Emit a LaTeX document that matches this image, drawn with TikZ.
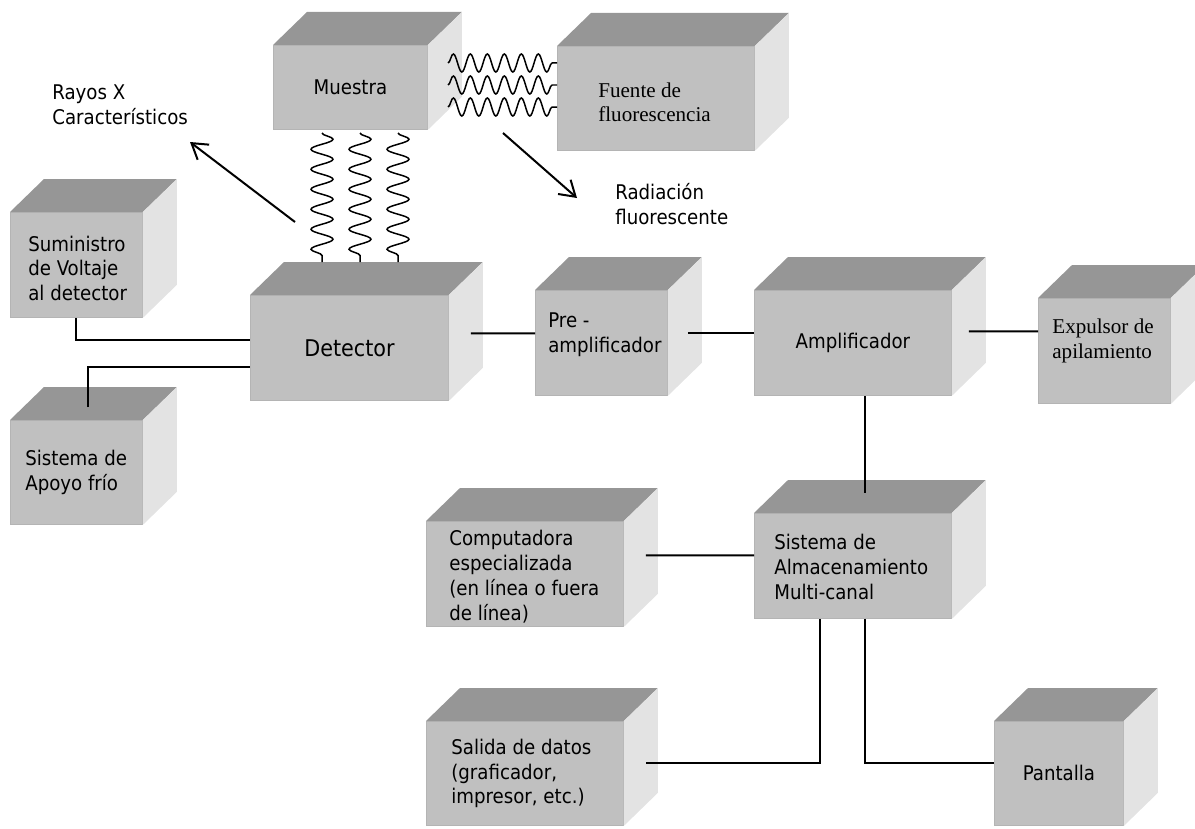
\documentclass[tikz,border=0pt]{standalone}
\usepackage{fontspec}
\setmainfont{DejaVu Sans Condensed}
\newfontfamily\serifa{Liberation Serif}
\usetikzlibrary{calc,arrows.meta,decorations.pathmorphing}
\definecolor{cajafrente}{RGB}{192,192,192}
\definecolor{cajatapa}{RGB}{150,150,150}
\definecolor{cajalado}{RGB}{227,227,227}
\definecolor{cajaborde}{RGB}{180,180,180}
% tapa y lado de una caja (la cara frontal es el nodo #1)
\newcommand{\caja}[1]{%
	\fill[cajatapa] (#1.north west) -- ++(34,-33) -- ($(#1.north east)+(34,-33)$) -- (#1.north east) -- cycle;
	\fill[cajalado] (#1.north east) -- ++(34,-33) -- ($(#1.south east)+(34,-33)$) -- (#1.south east) -- cycle;}

\begin{document}
\begin{tikzpicture}[x=0.02cm, y=-0.02cm,
		font=\fontsize{11.5}{14.2}\selectfont,
		caja/.style={rectangle, fill=cajafrente, draw=cajaborde, line width=0.5pt, inner sep=0pt, anchor=north west, minimum height=2.1cm, align=center},
		serif/.style={font=\serifa\fontsize{12}{13.8}\selectfont},
		texto/.style={align=left, inner sep=0pt, anchor=west},
		conector/.style={line width=0.04cm},
		flecha/.style={line width=0.04cm, -{Straight Barb[length=0.3cm,width=0.38cm]}},
		ondah/.style={decorate, decoration={snake, segment length=0.34cm, amplitude=0.18cm}, line width=0.03cm},
		ondav/.style={decorate, decoration={snake, segment length=0.4cm, amplitude=0.22cm}, line width=0.03cm}]
		%%%%% START %%%%%
		\useasboundingbox (0,0) rectangle (1195,828);
		
		\node[caja, minimum width=3.08cm, minimum height=1.68cm] (muestra) at (273,45) {Muestra};
		\caja{muestra}
		\node[caja, minimum width=3.94cm, minimum height=2.08cm] (fuente) at (557,46) {};
		\caja{fuente}
		\node[texto, serif] (fuentetxt) at ($(fuente.west)+(41,3.5)$) {Fuente de\\fluorescencia};
		
		\node[caja, minimum width=2.64cm] (sumin) at (10,212) {};
		\caja{sumin}
		\node[texto] (sumintxt) at ($(sumin.west)+(18,3.5)$) {Suministro\\de Voltaje\\al detector};
		\node[caja, minimum width=3.96cm, font=\fontsize{13.1}{15}\selectfont] (det) at (250,295) {Detector};
		\caja{det}
		\node[caja, minimum width=2.64cm, minimum height=2.08cm] (apoyo) at (10,420) {};
		\caja{apoyo}
		\node[texto] (apoyotxt) at ($(apoyo.west)+(15,0)$) {Sistema de\\Apoyo frío};
		
		\node[caja, minimum width=2.64cm] (preamp) at (535,290) {};
		\caja{preamp}
		\node[texto] (preamptxt) at ($(preamp.west)+(13,-8)$) {Pre -\\amplificador};
		\node[caja, minimum width=3.94cm] (amplif) at (754,290) {Amplificador};
		\caja{amplif}
		\node[caja, minimum width=2.64cm] (expulsor) at (1038,298) {};
		\caja{expulsor}
		\node[texto, serif] (expulsortxt) at ($(expulsor.west)+(14,-10)$) {Expulsor de\\apilamiento};
		
		\node[caja, minimum width=3.94cm] (sistalm) at (754,513) {};
		\caja{sistalm}
		\node[texto] (sistalmtxt) at ($(sistalm.west)+(20,1)$) {Sistema de\\Almacenamiento\\Multi-canal};
		\node[caja, minimum width=3.94cm] (comput) at (426,521) {};
		\caja{comput}
		\node[texto] (computtxt) at ($(comput.west)+(23,2.5)$) {Computadora\\especializada\\(en línea o fuera\\de línea)};
		\node[caja, minimum width=3.94cm, minimum height=2.08cm] (salida) at (426,721) {};
		\caja{salida}
		\node[texto] (salidatxt) at ($(salida.west)+(25,0)$) {Salida de datos\\(graficador,\\impresor, etc.)};
		\node[caja, minimum width=2.58cm, minimum height=2.08cm] (pantalla) at (994,721) {Pantalla};
		\caja{pantalla}
		
		% radiacion
		\foreach \y in {63,85,107}
			\draw[ondah] (448,\y) -- (557,\y);
		\foreach \x in {322,360,398}
			\draw[ondav] (\x,133) -- (\x,262);
		
		\node[texto] (rayosx) at (52,104.5) {Rayos X\\Característicos};
		\coordinate (rxini) at (295,222);
		\coordinate (rxfin) at (190,142);
		\draw[flecha] (rxini) -- (rxfin);
		
		\node[texto] (radiac) at (615,204.5) {Radiación\\fluorescente};
		\coordinate (radini) at (503,133);
		\coordinate (radfin) at (577,198);
		\draw[flecha] (radini) -- (radfin);
		
		% conexiones
		\draw[conector] (sumin.south) |- ([yshift=0.15cm]det.west);
		\draw[conector] ([xshift=0.24cm,yshift=0.26cm]apoyo.north) |- ([yshift=-0.39cm]det.west);
		\draw[conector] ([xshift=0.44cm,yshift=0.29cm]det.east) -- ([yshift=0.19cm]preamp.west);
		\draw[conector] ([xshift=0.4cm,yshift=0.19cm]preamp.east) -- ([yshift=0.19cm]amplif.west);
		\draw[conector] ([xshift=0.34cm,yshift=0.23cm]amplif.east) -- ([yshift=0.39cm]expulsor.west);
		\draw[conector] ([xshift=0.24cm]amplif.south) -- ([xshift=0.24cm,yshift=0.4cm]sistalm.north);
		\draw[conector] ([xshift=0.44cm,yshift=0.37cm]comput.east) -- ([yshift=0.21cm]sistalm.west);
		\draw[conector] ([xshift=-0.65cm]sistalm.south) |- ([xshift=0.44cm,yshift=0.2cm]salida.east);
		\draw[conector] ([xshift=0.24cm]sistalm.south) |- ([yshift=0.2cm]pantalla.west);
		
		%%%%% END %%%%%
	\end{tikzpicture}
\end{document}
